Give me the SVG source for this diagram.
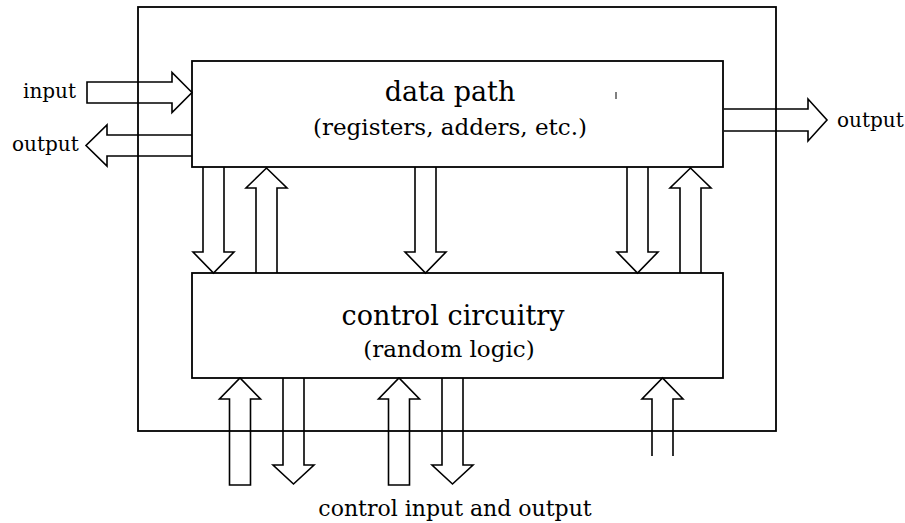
<svg xmlns="http://www.w3.org/2000/svg" width="905" height="523" viewBox="0 0 905 523">
  <style>
    .box { fill: none; stroke: #000; stroke-width: 1.8; }
    .arrow { fill: none; stroke: #000; stroke-width: 1.6; stroke-linejoin: miter; }
    text { font-family: "DejaVu Serif", "Liberation Serif", serif; fill: #000; }
    .title { font-size: 27px; text-anchor: middle; }
    .sub { font-size: 23px; text-anchor: middle; }
    .lbl { font-size: 20px; }
    .caption { font-size: 22px; text-anchor: middle; }
  </style>
  <rect width="905" height="523" fill="#fff"/>

  <!-- chip outline -->
  <g id="chip">
    <rect class="box" x="138" y="7" width="638" height="424"/>
  </g>

  <g id="data-path">
    <rect class="box" x="192" y="61" width="531" height="106"/>
    <text class="title" x="450" y="101">data path</text>
    <text class="sub" x="450" y="135">(registers, adders, etc.)</text>
  </g>

  <g id="control-circuitry">
    <rect class="box" x="192" y="273" width="531" height="105"/>
    <text class="title" x="453" y="325">control circuitry</text>
    <text class="sub" x="449" y="357">(random logic)</text>
  </g>

  <g id="labels">
    <text class="lbl" x="23" y="98">input</text>
    <text class="lbl" x="12" y="151">output</text>
    <text class="lbl" x="837" y="127">output</text>
    <text class="caption" x="455" y="516">control input and output</text>
  </g>

  <g id="connectors">
    <!-- data path I/O -->
    <path class="arrow" d="M192,92.5 L172,72.5 V82 H87 V103 H172 V112.5 Z"/>
    <path class="arrow" d="M192,135 H107 V125 L86,145.5 L107,166 V156 H192"/>
    <path class="arrow" d="M724,109 H808 V99 L827,120 L808,141 V131 H724"/>

    <!-- data path to control -->
    <path class="arrow" d="M203,167 V252 H193 L213.5,273 L234,252 H224 V167"/>
    <path class="arrow" d="M415,167 V252 H405 L425.5,273 L446,252 H436 V167"/>
    <path class="arrow" d="M627,167 V252 H617 L637.5,273 L658,252 H648 V167"/>

    <!-- control to data path -->
    <path class="arrow" d="M256,273 V188 H246 L266.5,168 L287,188 H277 V273"/>
    <path class="arrow" d="M680,273 V188 H670 L690.5,168 L711,188 H701 V273"/>

    <!-- control inputs -->
    <path class="arrow" d="M229.5,485 V399 H219.5 L240,378 L260.5,399 H250.5 V485 Z"/>
    <path class="arrow" d="M388.5,485 V399 H378.5 L399,378 L419.5,399 H409.5 V485 Z"/>
    <path class="arrow" d="M652,456 V399 H642 L662.5,378 L683,399 H673 V456"/>

    <!-- control outputs -->
    <path class="arrow" d="M283,378 V465 H273 L293.5,484 L314,465 H304 V378"/>
    <path class="arrow" d="M442,378 V465 H432 L452.5,484 L473,465 H463 V378"/>
  </g>

  <!-- small stray mark inside the data path block -->
  <path d="M616,92 V99" stroke="#000" stroke-width="1"/>
</svg>
